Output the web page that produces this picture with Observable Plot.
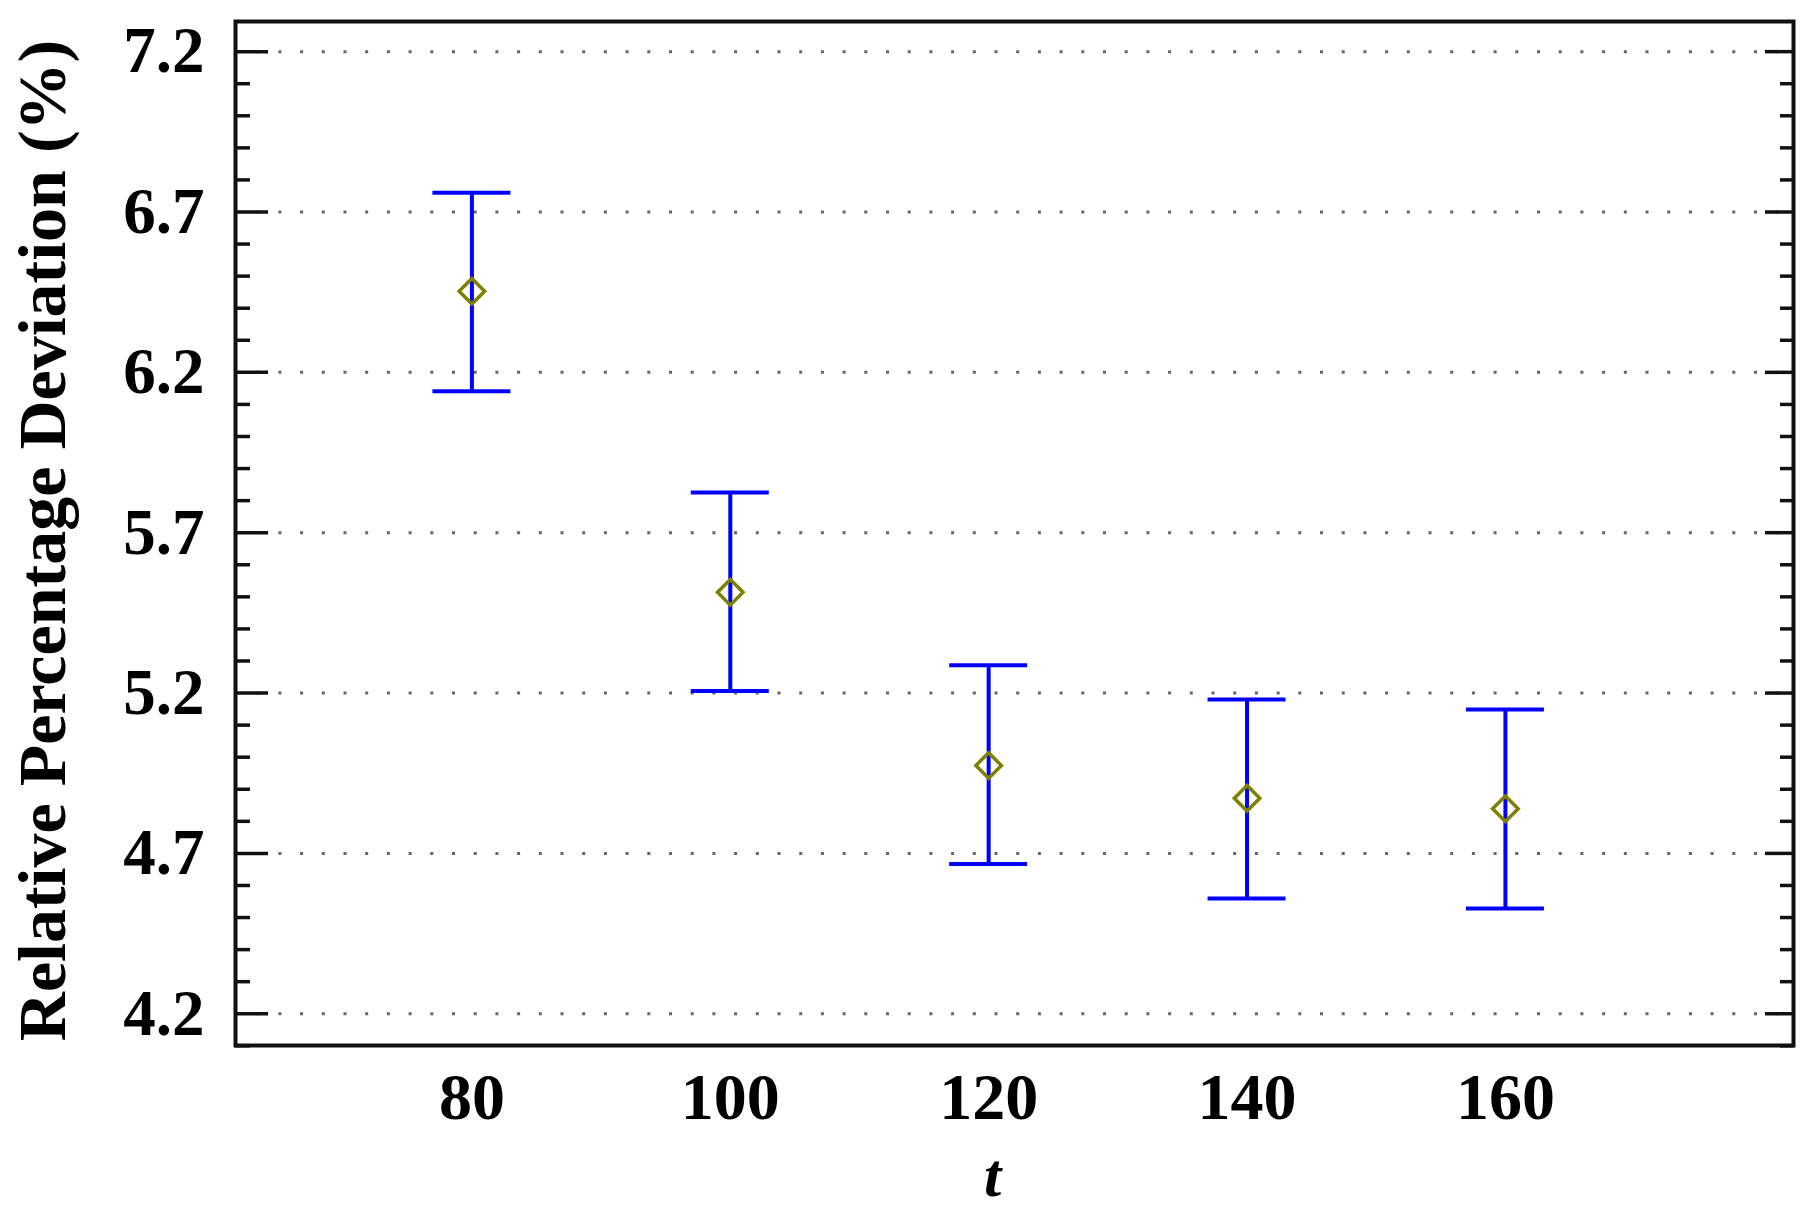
<!DOCTYPE html>
<html>
<head>
<meta charset="utf-8">
<script src="https://cdn.jsdelivr.net/npm/d3@7"></script>
<script src="https://cdn.jsdelivr.net/npm/@observablehq/plot@0.6"></script>
<style>
  html, body { margin: 0; padding: 0; background: #fff; }
  #chart svg { display: block; }
</style>
</head>
<body>
<div id="chart"></div>
<script>
// Data
const tValues = [80, 100, 120, 140, 160];
const means   = [6.453, 5.514, 4.974, 4.872, 4.839];
const lowers  = [6.141, 5.206, 4.667, 4.559, 4.528];
const uppers  = [6.760, 5.825, 5.287, 5.180, 5.149];

const yMajorTicks = [4.2, 4.7, 5.2, 5.7, 6.2, 6.7, 7.2];
const yMinorTicks = d3.range(41, 73).map(v => v / 10).filter(v => !yMajorTicks.some(m => Math.abs(m - v) < 1e-9));
const xTicks = [80, 100, 120, 140, 160];
const xDomain = [61.7, 182.3];
const yDomain = [4.101, 7.294];

const yLabel = "Relative Percentage Deviation (%)";
const xLabel = "t";

const data = tValues.map((t, i) => ({t, mean: means[i], lo: lowers[i], hi: uppers[i]}));

const font = "'Liberation Serif', 'Times New Roman', serif";

const chart = Plot.plot({
  width: 1813,
  height: 1216,
  marginLeft: 235,
  marginRight: 20,
  marginTop: 21,
  marginBottom: 171,
  style: {fontFamily: font, background: "#fff", color: "#000"},
  x: {domain: xDomain},
  y: {domain: yDomain},
  marks: [
    Plot.gridY(yMajorTicks, {stroke: "#666", strokeOpacity: 1, strokeWidth: 3, strokeDasharray: "3,18.7"}),
    // major ticks inward, left and right
    Plot.axisY(yMajorTicks, {anchor: "left", tickSize: -33, fill: "none", label: null, strokeWidth: 3.5, stroke: "#111"}),
    Plot.axisY(yMajorTicks, {anchor: "right", tickSize: -29, fill: "none", label: null, strokeWidth: 3.5, stroke: "#111"}),
    Plot.axisY(yMinorTicks, {anchor: "left", tickSize: -15, fill: "none", label: null, strokeWidth: 3.5, stroke: "#111"}),
    Plot.axisY(yMinorTicks, {anchor: "right", tickSize: -14, fill: "none", label: null, strokeWidth: 3.5, stroke: "#111"}),
    // tick labels
    Plot.axisY(yMajorTicks, {anchor: "left", tickSize: 0, tickPadding: 31, label: null, tickFormat: d => d.toFixed(1), fontSize: 65, fontWeight: "bold", fill: "#000"}),
    Plot.axisX(xTicks, {anchor: "bottom", tickSize: 0, tickPadding: 27, label: null, tickFormat: d => String(d), fontSize: 66, fontWeight: "bold", fill: "#000"}),
    // axis titles
    Plot.text([yLabel], {frameAnchor: "left", rotate: -90, dx: -192, dy: 7, fontSize: 68, fontWeight: "bold", textAnchor: "middle", lineAnchor: "middle", fill: "#000"}),
    Plot.text([xLabel], {frameAnchor: "bottom", dx: -22, dy: 131, fontSize: 62, fontWeight: "bold", fontStyle: "italic", textAnchor: "middle", lineAnchor: "middle", fill: "#000"}),
    // error bars
    Plot.ruleX(data, {x: "t", y1: "lo", y2: "hi", stroke: "#0000ff", strokeWidth: 4}),
    Plot.ruleY(data, {y: "hi", x1: "t", x2: "t", insetLeft: -39, insetRight: -39, stroke: "#0000ff", strokeWidth: 4}),
    Plot.ruleY(data, {y: "lo", x1: "t", x2: "t", insetLeft: -39, insetRight: -39, stroke: "#0000ff", strokeWidth: 4}),
    // means
    Plot.dot(data, {x: "t", y: "mean", symbol: "diamond2", r: 11.5, stroke: "#808000", strokeWidth: 3.5, fill: "none"}),
    Plot.frame({stroke: "#111", strokeWidth: 4})
  ]
});

document.getElementById("chart").appendChild(chart);
</script>
</body>
</html>
